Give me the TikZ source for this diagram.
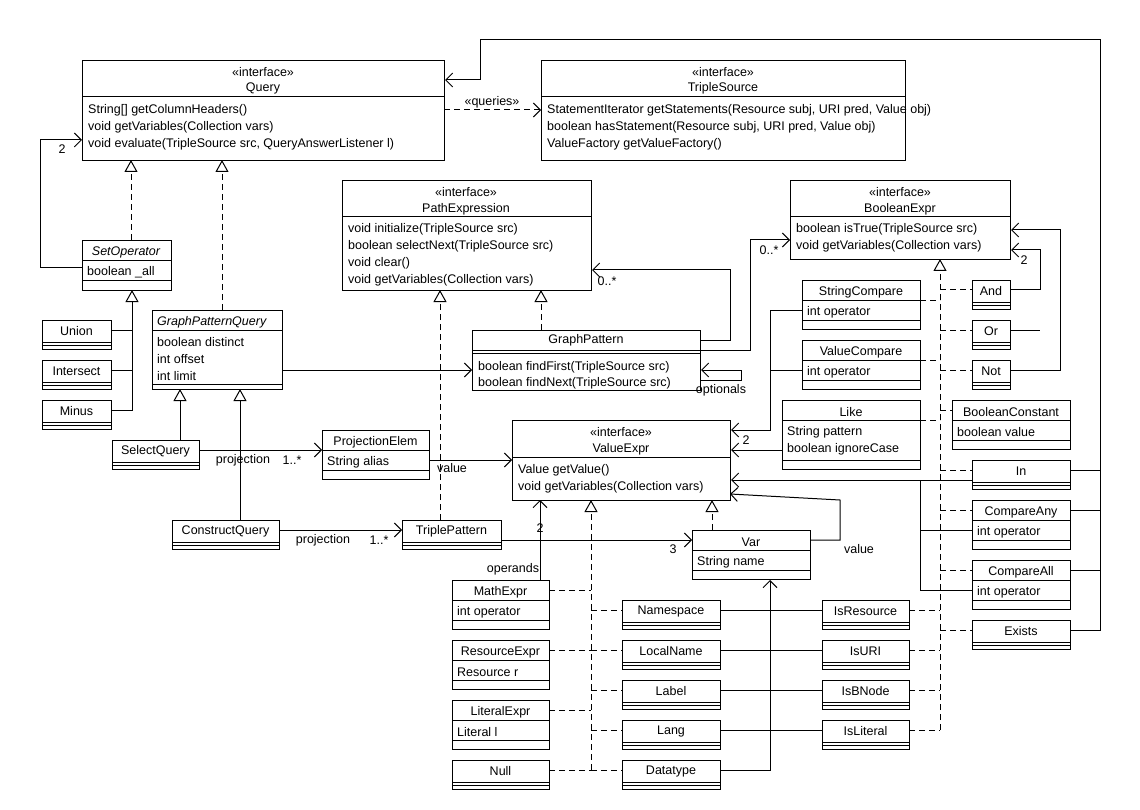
\documentclass[tikz,border=0pt]{standalone}
\usepackage{fontspec}
\setmainfont{Liberation Sans}
\usetikzlibrary{arrows.meta}
\tikzset{
 cls/.style={draw,anchor=north west,inner sep=0,line width=1pt},
 t/.style={anchor=west,inner sep=0},
 c/.style={inner sep=0},
 ln/.style={line width=1pt},
 asc/.style={ln,-{Straight Barb[length=7pt,width=14pt,line width=1pt]}},
 gen/.style={ln,-{Triangle[open,length=12pt,width=13pt,line width=1pt]}},
 real/.style={ln,dash pattern=on 6pt off 4pt,-{Triangle[open,length=12pt,width=13pt,line width=1pt]}},
 dep/.style={ln,dash pattern=on 6pt off 4pt},
}
\newcommand\hl[3]{\draw[ln] (#1,#3) -- (#2,#3);}
\newcommand\simple[5]{%
 \node[cls,minimum width=#4pt,minimum height=29pt] (#1) at (#2,#3) {};
 \node[c] at (#2+#4/2,#3+11) {#5};
 \hl{#2}{#2+#4}{#3+22}\hl{#2}{#2+#4}{#3+25}}
\newcommand\oneattr[7]{% name x y w label attr centered?
 \node[cls,minimum width=#4pt,minimum height=49pt] (#1) at (#2,#3) {};
 \node[c] at (#2+#4/2,#3+12) {#5};
 \hl{#2}{#2+#4}{#3+20}
 \node[t] at (#2+5,#3+32) {#6};
 \hl{#2}{#2+#4}{#3+40}}
\begin{document}
\begin{tikzpicture}[x=1pt,y=-1pt,font=\fontsize{12.5}{14}\selectfont]
\useasboundingbox[fill=white] (0,0) rectangle (1140,810);
% Query
\node[cls,minimum width=362pt,minimum height=100pt] (Query) at (82,60) {};
\node[c] at (263,72) {«interface»};
\node[c] at (263,88) {Query};
\hl{82}{444}{97}
\node[t] at (88,110) {String[] getColumnHeaders()};
\node[t] at (88,127) {void getVariables(Collection vars)};
\node[t] at (88,144) {void evaluate(TripleSource src, QueryAnswerListener l)};
% TripleSource
\node[cls,minimum width=364pt,minimum height=100pt] (TS) at (541,60) {};
\node[c] at (723,72) {«interface»};
\node[c] at (723,88) {TripleSource};
\hl{541}{905}{97}
\node[t] at (547,110) {StatementIterator getStatements(Resource subj, URI pred, Value obj)};
\node[t] at (547,127) {boolean hasStatement(Resource subj, URI pred, Value obj)};
\node[t] at (547,144) {ValueFactory getValueFactory()};
\draw[dep,-{Straight Barb[length=7pt,width=14pt,line width=1pt]}] (444,110) -- (TS.west |- 0,110);
\node[c] at (492,102) {«queries»};
% SetOperator
\node[cls,minimum width=89pt,minimum height=50pt] (SetOp) at (82,240) {};
\node[c] at (126,252) {\itshape SetOperator};
\hl{82}{171}{261}
\node[t] at (87,272) {boolean \_all};
\hl{82}{171}{281}
\draw[real] (131,240) -- (131,160);
\draw[asc] (SetOp.west |- 0,268) -- (40,268) -- (40,140) -- (Query.west |- 0,140);
\node[c] at (62,149) {2};
% set ops
\simple{Union}{42}{320}{69}{Union}
\simple{Intersect}{42}{360}{69}{Intersect}
\simple{Minus}{42}{400}{69}{Minus}
\draw[ln] (Union.east |- 0,330) -- (132,330);
\draw[ln] (Intersect.east |- 0,370) -- (132,370);
\draw[gen] (Minus.east |- 0,410) -- (132,410) -- (132,290);
% GraphPatternQuery
\node[cls,minimum width=130pt,minimum height=79pt] (GPQ) at (152,310) {};
\node[t] at (157,322) {\itshape GraphPatternQuery};
\hl{152}{282}{330}
\node[t] at (157,342) {boolean distinct};
\node[t] at (157,359) {int offset};
\node[t] at (157,376) {int limit};
\hl{152}{282}{384}
\draw[real] (222,310) -- (222,160);
% Select / Construct
\simple{Select}{112}{440}{87}{SelectQuery}
\simple{Construct}{172}{520}{107}{ConstructQuery}
\draw[gen] (180,440) -- (180,389);
\draw[gen] (240,520) -- (240,389);
% ProjectionElem
\oneattr{PE}{322}{430}{107}{ProjectionElem}{String alias}{}
\draw[asc] (Select.east |- 0,450) -- (PE.west |- 0,450);
\node[c] at (243,460) {projection};
\node[c] at (292,460) {1..*};
% TriplePattern
\simple{TP}{402}{520}{99}{TriplePattern}
\draw[asc] (Construct.east |- 0,530) -- (TP.west |- 0,530);
\node[c] at (323,540) {projection};
\node[c] at (379,540) {1..*};
% PathExpression
\node[cls,minimum width=249pt,minimum height=110pt] (PathE) at (342,180) {};
\node[c] at (466,192) {«interface»};
\node[c] at (466,209) {PathExpression};
\hl{342}{591}{217}
\node[t] at (348,229) {void initialize(TripleSource src)};
\node[t] at (348,246) {boolean selectNext(TripleSource src)};
\node[t] at (348,263) {void clear()};
\node[t] at (348,280) {void getVariables(Collection vars)};
\draw[real] (440,520) -- (440,290);
% GraphPattern
\node[cls,minimum width=228pt,minimum height=60pt] (GP) at (472,330) {};
\node[c] at (586,340) {GraphPattern};
\hl{472}{700}{350}\hl{472}{700}{353}
\node[t] at (478,367) {boolean findFirst(TripleSource src)};
\node[t] at (478,383) {boolean findNext(TripleSource src)};
\draw[real] (541,330) -- (541,290);
\draw[asc] (GPQ.east |- 0,370) -- (GP.west |- 0,370);
\draw[asc] (700,340) -- (730,340) -- (730,270) -- (PathE.east |- 0,270);
\node[c] at (607,281) {0..*};
\draw[asc] (700,380) -- (741,380) -- (741,370) -- (GP.east |- 0,370);
\node[c] at (721,390) {optionals};
% BooleanExpr
\node[cls,minimum width=220pt,minimum height=79pt] (BE) at (790,180) {};
\node[c] at (900,192) {«interface»};
\node[c] at (900,209) {BooleanExpr};
\hl{790}{1010}{217}
\node[t] at (796,229) {boolean isTrue(TripleSource src)};
\node[t] at (796,246) {void getVariables(Collection vars)};
\draw[asc] (GP.east |- 0,350) -- (750,350) -- (750,240) -- (BE.west |- 0,240);
\node[c] at (769,250) {0..*};
% ValueExpr
\node[cls,minimum width=218pt,minimum height=80pt] (VE) at (512,420) {};
\node[c] at (621,432) {«interface»};
\node[c] at (621,449) {ValueExpr};
\hl{512}{730}{457}
\node[t] at (518,470) {Value getValue()};
\node[t] at (518,487) {void getVariables(Collection vars)};
\draw[asc] (PE.east |- 0,460) -- (VE.west |- 0,460);
\node[c] at (452,468) {value};
% Var
\oneattr{Var}{692}{530}{118}{Var}{String name}{}
\draw[real] (712,530) -- (712,500);
\draw[asc] (TP.east |- 0,540) -- (Var.west |- 0,540);
\node[c] at (673,549) {3};
\draw[asc] (Var.east |- 0,540) -- (840,540) -- (840,500) -- (730,494);
\node[c] at (859,549) {value};
% BooleanExpr subclasses
\oneattr{SC}{802}{280}{118}{StringCompare}{int operator}{}
\oneattr{VC}{802}{340}{118}{ValueCompare}{int operator}{}
\node[cls,minimum width=138pt,minimum height=69pt] (Like) at (782,400) {};
\node[c] at (851,412) {Like};
\hl{782}{920}{420}
\node[t] at (787,432) {String pattern};
\node[t] at (787,449) {boolean ignoreCase};
\hl{782}{920}{460}
\simple{And}{972}{280}{38}{And}
\simple{Or}{972}{320}{38}{Or}
\simple{Not}{972}{360}{38}{Not}
\oneattr{BC}{952}{400}{118}{BooleanConstant}{boolean value}{}
\simple{In}{972}{460}{98}{In}
\oneattr{CAny}{972}{500}{98}{CompareAny}{int operator}{}
\oneattr{CAll}{972}{560}{98}{CompareAll}{int operator}{}
\simple{Exists}{972}{620}{98}{Exists}
% realization trunk for BooleanExpr
\draw[real] (940,730) -- (940,259);
\foreach \yy in {290,330,370,470,510,570,630} \draw[dep] (940,\yy) -- (972,\yy);
\draw[dep] (940,410) -- (952,410);
\foreach \yy in {300,360,420} \draw[dep] (920,\yy) -- (940,\yy);
\draw[asc] (And.east |- 0,290) -- (1040,290) -- (1040,250) -- (BE.east |- 0,250);
\draw[ln] (Or.east |- 0,330) -- (1040,330);
\node[c] at (1024,260) {2};
\draw[asc] (Not.east |- 0,370) -- (1060,370) -- (1060,230) -- (BE.east |- 0,230);
\draw[asc] (SC.west |- 0,310) -- (770,310) -- (770,430) -- (VE.east |- 0,430);
\draw[ln] (VC.west |- 0,370) -- (770,370);
\node[c] at (746,440) {2};
\draw[asc] (Like.west |- 0,450) -- (VE.east |- 0,450);
\draw[asc] (In.west |- 0,480) -- (VE.east |- 0,480);
\draw[ln] (920,480) -- (920,590) -- (CAll.west |- 0,590);
\draw[ln] (920,530) -- (CAny.west |- 0,530);
\draw[asc] (Exists.east |- 0,630) -- (1100,630) -- (1100,40) -- (480,40) -- (480,80) -- (Query.east |- 0,80);
\foreach \n/\yy in {In/470,CAny/510,CAll/570} \draw[ln] (\n.east |- 0,\yy) -- (1100,\yy);
% ValueExpr subclasses
\oneattr{Math}{452}{580}{97}{MathExpr}{int operator}{}
\oneattr{Res}{452}{640}{97}{ResourceExpr}{Resource r}{}
\oneattr{Lit}{452}{700}{97}{LiteralExpr}{Literal l}{}
\simple{Null}{452}{760}{97}{Null}
\simple{NS}{622}{600}{98}{Namespace}
\simple{LN}{622}{640}{98}{LocalName}
\simple{Lab}{622}{680}{98}{Label}
\simple{Lang}{622}{720}{98}{Lang}
\simple{DT}{622}{760}{98}{Datatype}
\simple{IsR}{822}{600}{87}{IsResource}
\simple{IsU}{822}{640}{87}{IsURI}
\simple{IsB}{822}{680}{87}{IsBNode}
\simple{IsL}{822}{720}{87}{IsLiteral}
\draw[real] (591,770) -- (591,500);
\foreach \yy in {590,650,710,770} \draw[dep] (549,\yy) -- (591,\yy);
\foreach \yy in {610,650,690,730,770} \draw[dep] (591,\yy) -- (622,\yy);
\foreach \yy in {610,650,690,730} \draw[dep] (909,\yy) -- (940,\yy);
\draw[asc] (540,580) -- (540,500);
\node[c] at (540,528) {2};
\node[c] at (513,569) {operands};
\draw[asc] (DT.east |- 0,770) -- (770,770) -- (770,580);
\draw[ln] (NS.east |- 0,610) -- (IsR.west |- 0,610);
\draw[ln] (LN.east |- 0,650) -- (IsU.west |- 0,650);
\draw[ln] (Lab.east |- 0,690) -- (IsB.west |- 0,690);
\draw[ln] (Lang.east |- 0,730) -- (IsL.west |- 0,730);
\end{tikzpicture}
\end{document}
